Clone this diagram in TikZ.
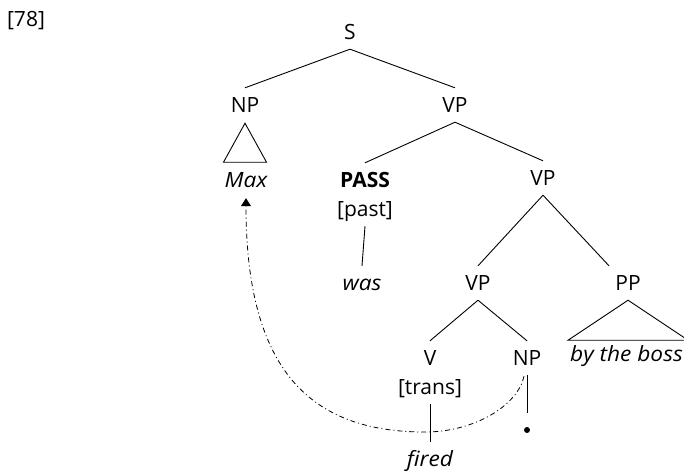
\documentclass[tikz,border=0pt]{standalone}
\usepackage{fontspec}
\setmainfont[ItalicFeatures={FakeStretch=1.08}]{Open Sans}
\usetikzlibrary{arrows.meta,calc}
\begin{document}
\begin{tikzpicture}[x=1pt,y=-1pt,
  every node/.style={font=\fontsize{21}{25}\selectfont, inner sep=0pt, text height=15pt, text depth=5pt},
  edge/.style={line width=0.9pt},
  move/.style={line width=0.8pt, dash pattern=on 5pt off 3pt on 1pt off 3pt, -{Triangle[width=10pt,length=8pt]}}]
\useasboundingbox (0,0) rectangle (684,474);
\newcommand\tr[2]{\draw[edge] ($(#1.south)+(0,5)$) -- ($(#2.north)+(0,-9)$);}
\node (num) at (26,21) {[78]};
\node (S) at (350,34) {S};
\node (NP) at (245,107) {NP};
\node (VP) at (455,107) {VP};
\node (Max) at (246,182) {\itshape Max};
\node (PASS) at (365,182) {\bfseries PASS};
\node (past) at (365,211) {[past]};
\node (was) at (362,285) {\itshape was};
\node (VPb) at (543,180) {VP};
\node (VPc) at (478,285) {VP};
\node (PP) at (628,285) {PP};
\node[anchor=east] (boss) at (683,356) {\itshape by the boss};
\node (V) at (430,360) {V};
\node (NPb) at (527,360) {NP};
\node (trans) at (430,389) {[trans]};
\node (fired) at (430,461) {\itshape fired};
\node[circle, fill, text height=, text depth=, minimum size=6pt] (dot) at (527,430) {};
\tr{S}{NP}
\tr{S}{VP}
\tr{VP}{PASS}
\tr{VP}{VPb}
\tr{VPb}{VPc}
\draw[edge] ($(VPb.south)+(0,5)$) -- ($(PP.north)+(-19,-9)$);
\tr{VPc}{V}
\tr{VPc}{NPb}
\draw[edge] ($(past.south)+(0,5)$) -- ($(was.north)+(0,-9)$);
\draw[edge] ($(trans.south)+(0,5)$) -- ($(fired.north)+(0,-9)$);
\draw[edge] ($(NPb.south)+(0,5)$) -- ($(dot.north)+(0,-14)$);
\draw[edge] ($(NP.south)+(0,6)$) -- ++(-21.5,39) -- ++(43,0) -- cycle;
\draw[edge] ($(PP.south)+(0,5)$) -- ++(-60,40) -- ++(120,0) -- cycle;
\draw[move] ($(NPb.south)+(-3,6)$) .. controls (518,405) and (475,432) .. (425,432)
  .. controls (310,432) and (246,370) .. ($(Max.south)+(0,6)$);
\end{tikzpicture}
\end{document}
